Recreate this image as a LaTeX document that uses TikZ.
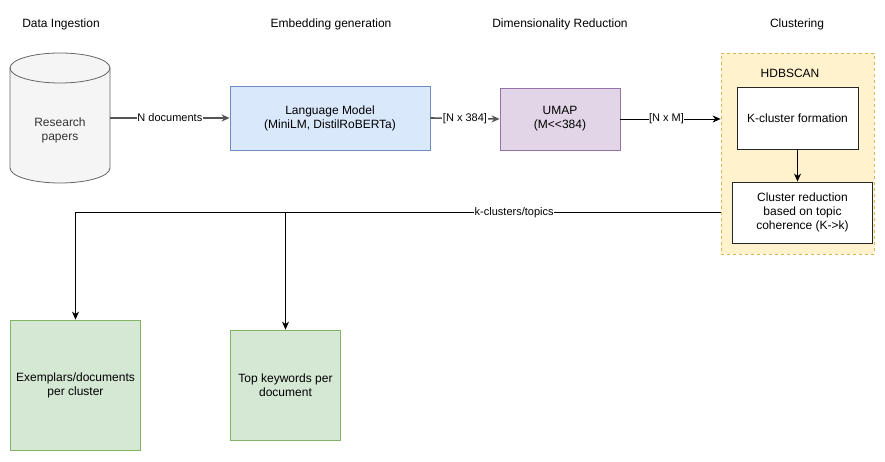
\documentclass[tikz,border=0pt]{standalone}
\usepackage{fontspec}
\setmainfont[Ligatures=NoCommon]{Liberation Sans}
\usetikzlibrary{arrows.meta}
\definecolor{dbfill}{HTML}{F5F5F5}
\definecolor{dbline}{HTML}{666666}
\definecolor{dbtext}{HTML}{333333}
\definecolor{bluefill}{HTML}{DAE8FC}
\definecolor{blueline}{HTML}{6C8EBF}
\definecolor{purpfill}{HTML}{E1D5E7}
\definecolor{purpline}{HTML}{9673A6}
\definecolor{yelfill}{HTML}{FFF2CC}
\definecolor{yelline}{HTML}{D6B656}
\definecolor{grnfill}{HTML}{D5E8D4}
\definecolor{grnline}{HTML}{82B366}
\definecolor{grayarr}{HTML}{555555}
\tikzset{
  base/.style={font=\fontsize{12}{14}\selectfont, align=center, inner sep=0pt},
  title/.style={base},
  box/.style={base, draw, line width=0.8pt, minimum width=#1},
  bluebox/.style={box=200pt, fill=bluefill, draw=blueline, minimum height=64pt},
  purpbox/.style={box=120pt, fill=purpfill, draw=purpline, minimum height=62pt},
  whitebox/.style={base, draw=black!85, line width=0.9pt, fill=white},
  greenbox/.style={base, fill=grnfill, draw=grnline, line width=0.8pt},
  container/.style={fill=yelfill, draw=yelline, dashed, dash pattern=on 3pt off 3pt, line width=0.8pt, inner sep=0pt},
  elabel/.style={font=\fontsize{11}{13}\selectfont, fill=white, inner sep=0.5pt},
  arr/.style={-{Stealth[length=8pt,width=7pt,inset=2.5pt]}, line width=0.8pt},
  grayarrow/.style={arr, draw=grayarr, line width=1.6pt, -{Stealth[length=8pt,width=7pt,inset=2.5pt]}},
}
\begin{document}
\begin{tikzpicture}[x=1pt,y=-1pt]
\useasboundingbox[fill=white] (0,0) rectangle (885,462);

% titles
\node[title] (t1) at (61,24) {Data Ingestion};
\node[title] (t2) at (331,24) {Embedding generation};
\node[title] (t3) at (560,24) {Dimensionality Reduction};
\node[title] (t4) at (797,24) {Clustering};

% cylinder
\path[fill=dbfill, draw=dbline, line width=0.8pt]
  (10,68) -- (10,168) arc[start angle=180, end angle=0, x radius=50, y radius=15]
  -- (110,68) arc[start angle=0, end angle=-180, x radius=50, y radius=15] -- cycle;
\draw[dbline, line width=0.8pt] (10,68) arc[start angle=180, end angle=0, x radius=50, y radius=15];
\node[base, minimum width=100pt, minimum height=130pt, text=dbtext] (db) at (60,118) {};
\node[base, text=dbtext] (dbtxt) at (60,130) {Research\\papers};

% pipeline boxes
\node[bluebox] (lm) at (330,118) {Language Model\\(MiniLM, DistilRoBERTa)};
\node[purpbox] (umap) at (560,119) {UMAP\\(M{<}{<}384)};

% container
\node[container, minimum width=153pt, minimum height=201pt] (clus) at (797.5,153.5) {};
\node[base] (hdb) at (790,73) {HDBSCAN};
\node[whitebox, minimum width=121pt, minimum height=62pt] (kc) at (797.5,118) {K-cluster formation};
\node[whitebox, minimum width=140pt, minimum height=61pt] (red) at (802.5,212.5) {Cluster reduction\\based on topic\\coherence (K->k)};

% outputs
\node[greenbox, minimum width=130pt, minimum height=130pt] (ex) at (75.5,385) {Exemplars/documents\\per cluster};
\node[greenbox, minimum width=110pt, minimum height=110pt] (kw) at (285.5,385) {Top keywords per\\document};

% connectors
\draw[grayarrow] (db.east) -- node[elabel, text=black] {N documents} (lm.west);
\draw[grayarrow] (lm.east) -- node[elabel] {[N x 384]} (umap.west);
\draw[arr] (umap.east) -- node[elabel, pos=0.46] {[N x M]} (umap.east -| clus.west);
\draw[arr] (kc.south) -- (kc.south |- red.north);
\draw[arr] (clus.west |- red) -- node[elabel, pos=0.32] {k-clusters/topics} (ex.north |- red) -- (ex.north);
\draw[arr] (kw.north |- red) -- (kw.north);
\end{tikzpicture}
\end{document}
